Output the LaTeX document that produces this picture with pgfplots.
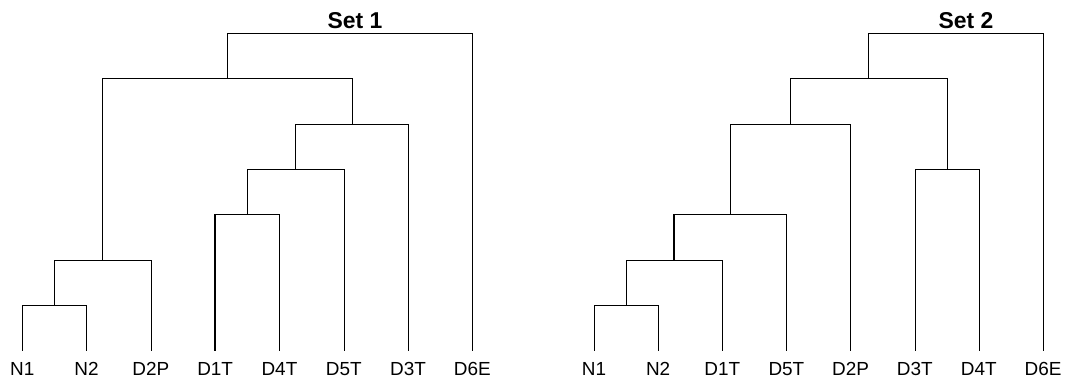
\documentclass[border=0pt]{standalone}
\usepackage{pgfplots}
\pgfplotsset{compat=1.18}
\usepackage{fontspec}
\setmainfont{Liberation Sans}
\begin{document}
\begin{tikzpicture}
\path[use as bounding box] (0,0) rectangle (1065bp,-383bp);
\pgfplotsset{
  dendro/.style={
    scale only axis, enlargelimits=false, clip=false,
    xmin=1, xmax=8, ymin=0, ymax=7,
    height=317.8bp,
    axis line style={draw=none},
    xtick={1,...,8}, xtick style={draw=none},
    ytick=\empty,
    xticklabel style={font=\fontsize{19}{22}\selectfont, yshift=-8bp},
    cycle list={{black, solid, line width=1.6bp, mark=none, line join=miter}},
    anchor=south west,
  }
}
% ---------- Set 1 ----------
\begin{axis}[dendro, width=450bp, at={(22.3bp,-350.7bp)},
  xticklabels={N1,N2,D2P,D1T,D4T,D5T,D3T,D6E}]
\addplot coordinates {(1,0) (1,1) (2,1) (2,0)};
\addplot coordinates {(1.5,1) (1.5,2) (3,2) (3,0)};
\addplot coordinates {(4,0) (4,3) (5,3) (5,0)};
\addplot coordinates {(4.5,3) (4.5,4) (6,4) (6,0)};
\addplot coordinates {(5.25,4) (5.25,5) (7,5) (7,0)};
\addplot coordinates {(2.25,2) (2.25,6) (6.125,6) (6.125,5)};
\addplot coordinates {(4.1875,6) (4.1875,7) (8,7) (8,0)};
\node[font=\fontsize{23}{26}\selectfont\bfseries] at (axis cs:6.175,7.28) {Set 1};
\end{axis}
% ---------- Set 2 ----------
\begin{axis}[dendro, width=449bp, at={(594bp,-350.7bp)},
  xticklabels={N1,N2,D1T,D5T,D2P,D3T,D4T,D6E}]
\addplot coordinates {(1,0) (1,1) (2,1) (2,0)};
\addplot coordinates {(1.5,1) (1.5,2) (3,2) (3,0)};
\addplot coordinates {(2.25,2) (2.25,3) (4,3) (4,0)};
\addplot coordinates {(6,0) (6,4) (7,4) (7,0)};
\addplot coordinates {(3.125,3) (3.125,5) (5,5) (5,0)};
\addplot coordinates {(4.0625,5) (4.0625,6) (6.5,6) (6.5,4)};
\addplot coordinates {(5.28125,6) (5.28125,7) (8,7) (8,0)};
\node[font=\fontsize{23}{26}\selectfont\bfseries] at (axis cs:6.80,7.28) {Set 2};
\end{axis}
\end{tikzpicture}
\end{document}
